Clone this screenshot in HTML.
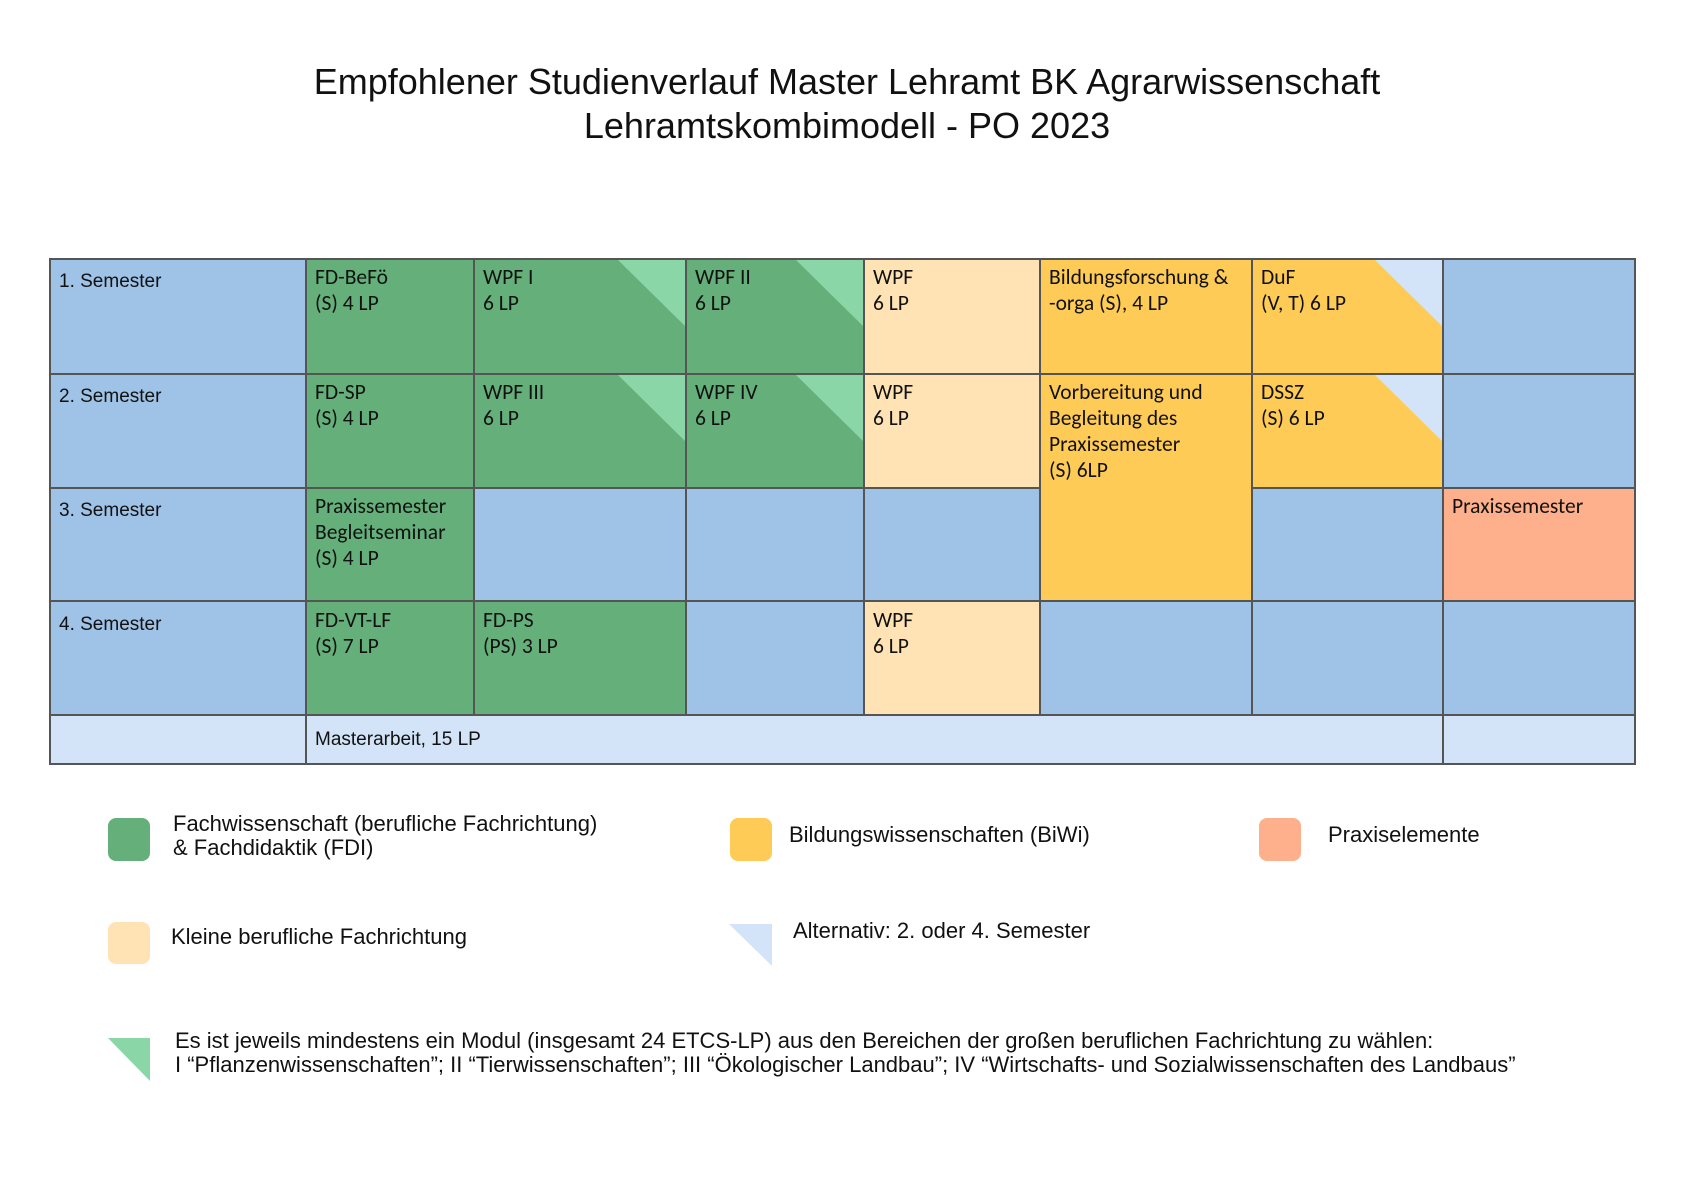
<!DOCTYPE html>
<html><head><meta charset="utf-8"><style>
html,body{margin:0;padding:0;background:#fff;}
svg{display:block}
.c{font-family:"Carlito","Liberation Sans Narrow","Liberation Sans",sans-serif;font-size:21.5px;fill:#111}
.h{font-family:"Liberation Sans",sans-serif;fill:#111}
</style></head><body>
<svg width="1684" height="1190" viewBox="0 0 1684 1190" xmlns="http://www.w3.org/2000/svg">
<text class="h" x="847" y="94" font-size="36" text-anchor="middle">Empfohlener Studienverlauf Master Lehramt BK Agrarwissenschaft</text>
<text class="h" x="847" y="138" font-size="36" text-anchor="middle">Lehramtskombimodell - PO 2023</text>

<rect x="50" y="259" width="256" height="115" fill="#9FC2E7"/>
<rect x="306" y="259" width="168" height="115" fill="#64AF7A"/>
<rect x="474" y="259" width="212" height="115" fill="#64AF7A"/>
<polygon points="617,259 686,259 686,327" fill="#8AD6A6"/>
<rect x="686" y="259" width="178" height="115" fill="#64AF7A"/>
<polygon points="795,259 864,259 864,327" fill="#8AD6A6"/>
<rect x="864" y="259" width="176" height="115" fill="#FFE3B5"/>
<rect x="1040" y="259" width="212" height="115" fill="#FFCB57"/>
<rect x="1252" y="259" width="191" height="115" fill="#FFCB57"/>
<polygon points="1374,259 1443,259 1443,327" fill="#D3E4F8"/>
<rect x="1443" y="259" width="192" height="115" fill="#9FC2E7"/>
<rect x="50" y="374" width="256" height="114" fill="#9FC2E7"/>
<rect x="306" y="374" width="168" height="114" fill="#64AF7A"/>
<rect x="474" y="374" width="212" height="114" fill="#64AF7A"/>
<polygon points="617,374 686,374 686,442" fill="#8AD6A6"/>
<rect x="686" y="374" width="178" height="114" fill="#64AF7A"/>
<polygon points="795,374 864,374 864,442" fill="#8AD6A6"/>
<rect x="864" y="374" width="176" height="114" fill="#FFE3B5"/>
<rect x="1040" y="374" width="212" height="227" fill="#FFCB57"/>
<rect x="1252" y="374" width="191" height="114" fill="#FFCB57"/>
<polygon points="1374,374 1443,374 1443,442" fill="#D3E4F8"/>
<rect x="1443" y="374" width="192" height="114" fill="#9FC2E7"/>
<rect x="50" y="488" width="256" height="113" fill="#9FC2E7"/>
<rect x="306" y="488" width="168" height="113" fill="#64AF7A"/>
<rect x="474" y="488" width="566" height="113" fill="#9FC2E7"/>
<rect x="1252" y="488" width="191" height="113" fill="#9FC2E7"/>
<rect x="1443" y="488" width="192" height="113" fill="#FDB08B"/>
<rect x="50" y="601" width="256" height="114" fill="#9FC2E7"/>
<rect x="306" y="601" width="380" height="114" fill="#64AF7A"/>
<rect x="686" y="601" width="178" height="114" fill="#9FC2E7"/>
<rect x="864" y="601" width="176" height="114" fill="#FFE3B5"/>
<rect x="1040" y="601" width="595" height="114" fill="#9FC2E7"/>
<rect x="50" y="715" width="1585" height="49" fill="#D3E4F8"/>

<g stroke="#555" stroke-width="2" fill="none">
<rect x="50" y="259" width="1585" height="505"/>
<line x1="50" y1="374" x2="1635" y2="374"/>
<line x1="50" y1="488" x2="1040" y2="488"/><line x1="1252" y1="488" x2="1635" y2="488"/>
<line x1="50" y1="601" x2="1635" y2="601"/>
<line x1="50" y1="715" x2="1635" y2="715"/>
<line x1="306" y1="259" x2="306" y2="764"/>
<line x1="474" y1="259" x2="474" y2="715"/>
<line x1="686" y1="259" x2="686" y2="715"/>
<line x1="864" y1="259" x2="864" y2="715"/>
<line x1="1040" y1="259" x2="1040" y2="715"/>
<line x1="1252" y1="259" x2="1252" y2="715"/>
<line x1="1443" y1="259" x2="1443" y2="764"/>
</g>

<g class="h" font-size="19">
<text x="59" y="287">1. Semester</text>
<text x="59" y="402">2. Semester</text>
<text x="59" y="516">3. Semester</text>
<text x="59" y="630">4. Semester</text>
<text x="315" y="745">Masterarbeit, 15 LP</text>
</g>
<g class="c">
<text x="315" y="284">FD-BeFö</text><text x="315" y="310">(S) 4 LP</text>
<text x="483" y="284">WPF I</text><text x="483" y="310">6 LP</text>
<text x="695" y="284">WPF  II</text><text x="695" y="310">6 LP</text>
<text x="873" y="284">WPF</text><text x="873" y="310">6 LP</text>
<text x="1049" y="284">Bildungsforschung &amp;</text><text x="1049" y="310">-orga (S), 4 LP</text>
<text x="1261" y="284">DuF</text><text x="1261" y="310">(V, T) 6 LP</text>
<text x="315" y="399">FD-SP</text><text x="315" y="425">(S) 4 LP</text>
<text x="483" y="399">WPF III</text><text x="483" y="425">6 LP</text>
<text x="695" y="399">WPF IV</text><text x="695" y="425">6 LP</text>
<text x="873" y="399">WPF</text><text x="873" y="425">6 LP</text>
<text x="1049" y="399">Vorbereitung und</text><text x="1049" y="425">Begleitung des</text><text x="1049" y="451">Praxissemester</text><text x="1049" y="477">(S) 6LP</text>
<text x="1261" y="399">DSSZ</text><text x="1261" y="425">(S) 6 LP</text>
<text x="315" y="513">Praxissemester</text><text x="315" y="539">Begleitseminar</text><text x="315" y="565">(S) 4 LP</text>
<text x="1452" y="513">Praxissemester</text>
<text x="315" y="627">FD-VT-LF</text><text x="315" y="653">(S) 7 LP</text>
<text x="483" y="627">FD-PS</text><text x="483" y="653">(PS) 3 LP</text>
<text x="873" y="627">WPF</text><text x="873" y="653">6 LP</text>
</g>

<rect x="108" y="818" width="42" height="43" rx="8" fill="#64AF7A"/>
<rect x="730" y="818" width="42" height="43" rx="8" fill="#FFCB57"/>
<rect x="1259" y="818" width="42" height="43" rx="8" fill="#FDB08B"/>
<rect x="108" y="922" width="42" height="42" rx="8" fill="#FFE3B5"/>
<polygon points="729,924 772,924 772,966" fill="#D3E4F8"/>
<polygon points="108,1038 150,1038 150,1081" fill="#8AD6A6"/>
<g class="h" font-size="22">
<text x="173" y="831">Fachwissenschaft (berufliche Fachrichtung)</text>
<text x="173" y="855">&amp; Fachdidaktik (FDI)</text>
<text x="789" y="842">Bildungswissenschaften (BiWi)</text>
<text x="1328" y="842">Praxiselemente</text>
<text x="171" y="944">Kleine berufliche Fachrichtung</text>
<text x="793" y="938">Alternativ: 2. oder 4. Semester</text>
<text x="175" y="1048">Es ist jeweils mindestens ein Modul (insgesamt 24 ETCS-LP) aus den Bereichen der großen beruflichen Fachrichtung zu wählen:</text>
<text x="175" y="1072">I “Pflanzenwissenschaften”; II “Tierwissenschaften”; III “Ökologischer Landbau”; IV “Wirtschafts- und Sozialwissenschaften des Landbaus”</text>
</g>
</svg>
</body></html>
